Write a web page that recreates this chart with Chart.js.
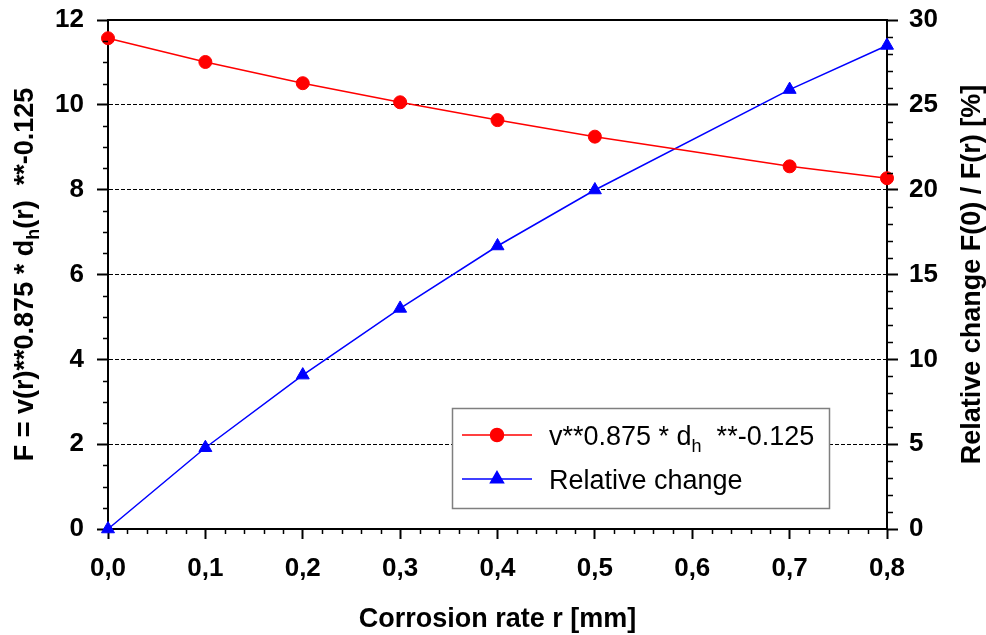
<!DOCTYPE html>
<html>
<head>
<meta charset="utf-8">
<script src="https://cdn.jsdelivr.net/npm/chart.js@4/dist/chart.umd.min.js"></script>
<style>
  html, body { margin: 0; padding: 0; background: #fff; }
  canvas { display: block; }
</style>
</head>
<body>
<canvas id="chart" width="986" height="635"></canvas>
<script>
// corrosion rate r [mm]
const corrosionRate = [0.0, 0.1, 0.2, 0.3, 0.4, 0.5, 0.7, 0.8];
// F = v(r)**0.875 * dh(r)**-0.125
const forceValues = [11.57, 11.01, 10.51, 10.06, 9.64, 9.25, 8.55, 8.27];
// relative change F(0)/F(r) in %
const relativeChange = [0, 4.79, 9.07, 13.0, 16.68, 19.98, 25.9, 28.5];
const xTickLabels = ['0,0', '0,1', '0,2', '0,3', '0,4', '0,5', '0,6', '0,7', '0,8'];

const FONT = '"Liberation Sans", Arial, sans-serif';
const bold = (s) => 'bold ' + s + 'px ' + FONT;
const plain = (s) => s + 'px ' + FONT;

function textWidth(ctx, parts) {
  let w = 0;
  parts.forEach((p) => { ctx.font = p.font; w += ctx.measureText(p.text).width; });
  return w;
}

function drawParts(ctx, parts, x, y) {
  parts.forEach((p) => {
    ctx.font = p.font;
    ctx.fillText(p.text, x, y + (p.dy || 0));
    x += ctx.measureText(p.text).width;
  });
}

const leftTitle = [
  { text: 'F = v(r)**0.875 * d', font: bold(27) },
  { text: 'h', font: bold(18), dy: 6 },
  { text: '(r)  **-0.125', font: bold(27) },
];
const rightTitle = [{ text: 'Relative change F(0) / F(r) [%]', font: bold(27) }];
const xTitle = [{ text: 'Corrosion rate r [mm]', font: bold(27) }];

const legendRows = [
  [
    { text: 'v**0.875 * d', font: plain(27) },
    { text: 'h', font: plain(18), dy: 7 },
    { text: '  **-0.125', font: plain(27) },
  ],
  [{ text: 'Relative change', font: plain(27) }],
];

const decorations = {
  id: 'decorations',
  afterDraw(chart) {
    const ctx = chart.ctx;
    const area = chart.chartArea;
    const xs = chart.scales.x, yl = chart.scales.yLeft, yr = chart.scales.yRight;
    ctx.save();

    // top frame line
    ctx.strokeStyle = '#000';
    ctx.lineWidth = 2;
    ctx.beginPath();
    ctx.moveTo(area.left - 1, area.top);
    ctx.lineTo(area.right + 1, area.top);
    ctx.stroke();

    // minor ticks
    ctx.lineWidth = 1.5;
    ctx.beginPath();
    for (let i = 0; i <= 24; i++) {
      if (i % 4 === 0) continue;
      const y = Math.round(yl.getPixelForValue(i * 0.5)) + 0.5;
      ctx.moveTo(area.left, y); ctx.lineTo(area.left - 5, y);
    }
    for (let i = 0; i <= 30; i++) {
      if (i % 5 === 0) continue;
      const y = Math.round(yr.getPixelForValue(i)) + 0.5;
      ctx.moveTo(area.right, y); ctx.lineTo(area.right + 6, y);
    }
    for (let i = 0; i <= 40; i++) {
      if (i % 5 === 0) continue;
      const x = Math.round(xs.getPixelForValue(i * 0.02)) + 0.5;
      ctx.moveTo(x, area.bottom); ctx.lineTo(x, area.bottom + 5);
    }
    ctx.stroke();

    // axis titles
    ctx.fillStyle = '#000';
    ctx.textBaseline = 'alphabetic';
    ctx.textAlign = 'left';
    const midY = (area.top + area.bottom) / 2;

    let w = textWidth(ctx, xTitle);
    drawParts(ctx, xTitle, (area.left + area.right) / 2 - w / 2, 627);

    ctx.save();
    ctx.translate(33, midY);
    ctx.rotate(-Math.PI / 2);
    w = textWidth(ctx, leftTitle);
    drawParts(ctx, leftTitle, -w / 2, 0);
    ctx.restore();

    ctx.save();
    ctx.translate(980, midY);
    ctx.rotate(-Math.PI / 2);
    w = textWidth(ctx, rightTitle);
    drawParts(ctx, rightTitle, -w / 2, 0);
    ctx.restore();

    // legend box
    const box = { x: 452, y: 408, w: 377, h: 100 };
    ctx.fillStyle = '#fff';
    ctx.fillRect(box.x, box.y, box.w, box.h);
    ctx.strokeStyle = '#7f7f7f';
    ctx.lineWidth = 1.5;
    ctx.strokeRect(box.x + 0.5, box.y + 0.5, box.w, box.h);

    const rowY = [435, 479];
    chart.data.datasets.forEach((ds, i) => {
      const y = rowY[i];
      ctx.strokeStyle = ds.borderColor;
      ctx.lineWidth = ds.borderWidth;
      ctx.beginPath();
      ctx.moveTo(462, y); ctx.lineTo(532, y);
      ctx.stroke();
      ctx.fillStyle = ds.pointBackgroundColor;
      ctx.strokeStyle = ds.pointBorderColor;
      Chart.helpers.drawPoint(ctx, {
        pointStyle: ds.pointStyle, radius: ds.pointRadius, rotation: 0, borderWidth: 1,
      }, 497, y);
      ctx.fillStyle = '#000';
      drawParts(ctx, legendRows[i], 549, y + 10);
    });

    ctx.restore();
  },
};

const tickFont = { family: FONT, size: 26, weight: 'bold' };

// fixed axis sizes so the plot area sits at 108..887 x 20..529
const fixWidth = (w) => (scale) => {
  scale.width = w;
  scale.paddingTop = 0;
  scale.paddingBottom = 0;
};

new Chart(document.getElementById('chart').getContext('2d'), {
  type: 'line',
  data: {
    datasets: [
      {
        label: 'v**0.875 * dh **-0.125',
        data: corrosionRate.map((r, i) => ({ x: r, y: forceValues[i] })),
        yAxisID: 'yLeft',
        borderColor: '#ff0000',
        borderWidth: 1.5,
        pointStyle: 'circle',
        pointRadius: 6.5,
        pointBackgroundColor: '#ff0000',
        pointBorderColor: '#ff0000',
        pointBorderWidth: 1,
        tension: 0,
        clip: false,
      },
      {
        label: 'Relative change',
        data: corrosionRate.map((r, i) => ({ x: r, y: relativeChange[i] })),
        yAxisID: 'yRight',
        borderColor: '#0000ff',
        borderWidth: 1.5,
        pointStyle: 'triangle',
        pointRadius: 7.5,
        pointBackgroundColor: '#0000ff',
        pointBorderColor: '#0000ff',
        pointBorderWidth: 1,
        tension: 0,
        clip: false,
      },
    ],
  },
  options: {
    responsive: false,
    devicePixelRatio: 1,
    animation: false,
    layout: { padding: { top: 20, left: 0, right: 0, bottom: 0 } },
    plugins: { legend: { display: false }, tooltip: { enabled: false } },
    scales: {
      x: {
        type: 'linear',
        min: 0,
        max: 0.8,
        afterFit: (scale) => {
          scale.height = 106;
          scale.paddingLeft = 0;
          scale.paddingRight = 0;
        },
        border: { display: true, color: '#000', width: 2 },
        grid: { drawOnChartArea: false, drawTicks: true, tickLength: 10, tickColor: '#000', tickWidth: 2 },
        ticks: {
          stepSize: 0.1,
          color: '#000',
          font: tickFont,
          padding: 14,
          maxRotation: 0,
          callback: (v) => xTickLabels[Math.round(v * 10)],
        },
      },
      yLeft: {
        type: 'linear',
        position: 'left',
        min: 0,
        max: 12,
        afterFit: fixWidth(108),
        border: { display: true, color: '#000', width: 2, dash: [4, 2] },
        grid: {
          color: (c) => (c.tick && (c.tick.value === 0 || c.tick.value === 12) ? 'rgba(0,0,0,0)' : '#000'),
          lineWidth: 1,
          drawTicks: true,
          tickLength: 11,
          tickColor: '#000',
          tickWidth: 2,
          tickBorderDash: [],
        },
        ticks: { stepSize: 2, color: '#000', font: tickFont, padding: 13 },
      },
      yRight: {
        type: 'linear',
        position: 'right',
        min: 0,
        max: 30,
        afterFit: fixWidth(99),
        border: { display: true, color: '#000', width: 2 },
        grid: { drawOnChartArea: false, drawTicks: true, tickLength: 11, tickColor: '#000', tickWidth: 2 },
        ticks: { stepSize: 5, color: '#000', font: tickFont, padding: 11 },
      },
    },
  },
  plugins: [decorations],
});
</script>
</body>
</html>
